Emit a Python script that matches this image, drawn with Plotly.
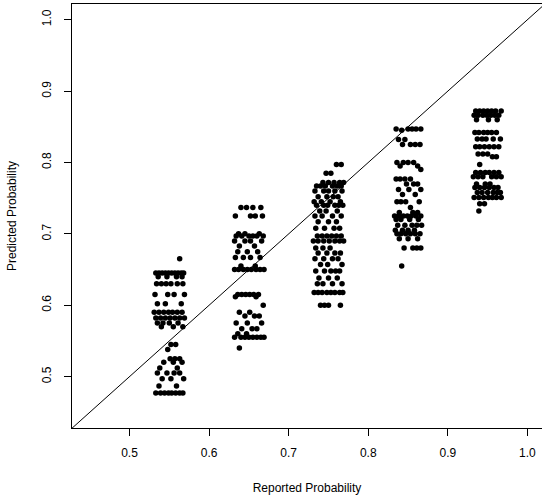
import plotly.graph_objects as go

# Each group: list of (predicted probability level, reported-probability x positions)
group_055 = [
    (0.665, [0.563]),
    (0.645, [0.533, 0.537, 0.541, 0.545, 0.549, 0.553, 0.557, 0.561, 0.565, 0.568]),
    (0.640, [0.536, 0.547, 0.559, 0.566]),
    (0.630, [0.534, 0.540, 0.546, 0.552, 0.560, 0.567]),
    (0.615, [0.532, 0.548, 0.556, 0.569]),
    (0.602, [0.535, 0.545, 0.565]),
    (0.590, [0.531, 0.537, 0.543, 0.549, 0.554, 0.560, 0.566]),
    (0.582, [0.533, 0.539, 0.545, 0.551, 0.557, 0.563, 0.569]),
    (0.575, [0.535, 0.542, 0.550, 0.561]),
    (0.570, [0.540, 0.555, 0.567]),
    (0.545, [0.552, 0.558]),
    (0.538, [0.548]),
    (0.525, [0.551, 0.557, 0.563]),
    (0.520, [0.543, 0.555, 0.566]),
    (0.512, [0.538, 0.560]),
    (0.505, [0.535, 0.547, 0.556, 0.563]),
    (0.497, [0.541, 0.552, 0.568]),
    (0.487, [0.537, 0.559]),
    (0.477, [0.533, 0.539, 0.544, 0.549, 0.553, 0.558, 0.563, 0.567]),
]
group_065 = [
    (0.737, [0.640, 0.647, 0.655, 0.665]),
    (0.725, [0.633, 0.652, 0.658, 0.667]),
    (0.700, [0.637, 0.645, 0.663]),
    (0.697, [0.634, 0.641, 0.650, 0.655, 0.660, 0.668]),
    (0.690, [0.632, 0.645, 0.652, 0.666]),
    (0.683, [0.638, 0.657]),
    (0.675, [0.636, 0.648, 0.661]),
    (0.667, [0.633, 0.643, 0.652, 0.664]),
    (0.655, [0.640, 0.658]),
    (0.650, [0.632, 0.637, 0.643, 0.648, 0.653, 0.659, 0.664, 0.669]),
    (0.615, [0.636, 0.641, 0.646, 0.651, 0.656, 0.662]),
    (0.612, [0.633, 0.659]),
    (0.600, [0.668]),
    (0.590, [0.638, 0.651]),
    (0.585, [0.645, 0.657, 0.663]),
    (0.575, [0.634, 0.648, 0.666]),
    (0.567, [0.641, 0.654, 0.660]),
    (0.560, [0.636, 0.647]),
    (0.555, [0.632, 0.640, 0.645, 0.650, 0.655, 0.660, 0.665, 0.669]),
    (0.540, [0.638]),
]
group_075 = [
    (0.797, [0.760, 0.766]),
    (0.785, [0.747, 0.753]),
    (0.772, [0.743, 0.750, 0.757, 0.764, 0.769]),
    (0.767, [0.735, 0.740, 0.746, 0.755, 0.761, 0.766]),
    (0.760, [0.733, 0.744, 0.750, 0.758, 0.767]),
    (0.752, [0.737, 0.748, 0.756, 0.762]),
    (0.745, [0.732, 0.741, 0.752, 0.765]),
    (0.740, [0.735, 0.744, 0.749, 0.758, 0.763, 0.768]),
    (0.732, [0.739, 0.747, 0.761]),
    (0.725, [0.733, 0.742, 0.755, 0.766]),
    (0.717, [0.737, 0.750, 0.760]),
    (0.708, [0.734, 0.745, 0.757, 0.764]),
    (0.697, [0.736, 0.742, 0.748, 0.754, 0.760, 0.766]),
    (0.690, [0.731, 0.737, 0.744, 0.751, 0.758, 0.764, 0.769]),
    (0.680, [0.734, 0.743, 0.752]),
    (0.673, [0.737, 0.748, 0.758, 0.765]),
    (0.665, [0.733, 0.744, 0.755, 0.762]),
    (0.657, [0.740, 0.749, 0.767]),
    (0.648, [0.734, 0.745, 0.753, 0.759, 0.764]),
    (0.638, [0.738, 0.750, 0.761]),
    (0.630, [0.736, 0.743, 0.755, 0.767]),
    (0.618, [0.732, 0.737, 0.742, 0.748, 0.753, 0.758, 0.764, 0.768]),
    (0.600, [0.740, 0.745, 0.750, 0.765]),
]
group_085 = [
    (0.847, [0.835, 0.850, 0.855, 0.860, 0.866]),
    (0.845, [0.842]),
    (0.832, [0.838, 0.846]),
    (0.825, [0.843, 0.853, 0.859, 0.865]),
    (0.800, [0.836, 0.844, 0.850, 0.857]),
    (0.795, [0.840, 0.862]),
    (0.790, [0.866]),
    (0.777, [0.835, 0.840, 0.846, 0.853]),
    (0.770, [0.848, 0.857, 0.862]),
    (0.762, [0.838, 0.851, 0.866]),
    (0.755, [0.843, 0.859]),
    (0.745, [0.836, 0.841, 0.847, 0.864]),
    (0.737, [0.853]),
    (0.730, [0.839, 0.856, 0.862]),
    (0.725, [0.833, 0.838, 0.844, 0.849, 0.854, 0.860, 0.866]),
    (0.720, [0.835, 0.841, 0.852, 0.863]),
    (0.712, [0.837, 0.846, 0.855, 0.861, 0.867]),
    (0.705, [0.834, 0.843, 0.850, 0.858]),
    (0.700, [0.836, 0.841, 0.847, 0.853, 0.859, 0.865]),
    (0.693, [0.839, 0.850, 0.862]),
    (0.680, [0.845, 0.856, 0.861, 0.866]),
    (0.655, [0.842]),
]
group_095 = [
    (0.872, [0.935, 0.940, 0.945, 0.950, 0.955, 0.960, 0.967]),
    (0.866, [0.933, 0.938, 0.944, 0.949, 0.954, 0.959, 0.964]),
    (0.860, [0.936, 0.951, 0.962]),
    (0.842, [0.934, 0.939, 0.945, 0.950, 0.955, 0.961]),
    (0.833, [0.937, 0.943, 0.948, 0.957, 0.966]),
    (0.822, [0.935, 0.940, 0.946, 0.952, 0.958, 0.964]),
    (0.812, [0.938, 0.944, 0.950]),
    (0.808, [0.956, 0.961]),
    (0.797, [0.940]),
    (0.786, [0.935, 0.941, 0.947, 0.952, 0.958, 0.964]),
    (0.780, [0.932, 0.938, 0.944, 0.955, 0.961, 0.967]),
    (0.770, [0.936, 0.947, 0.953]),
    (0.765, [0.934, 0.940, 0.946, 0.952, 0.958, 0.963]),
    (0.758, [0.937, 0.943, 0.950, 0.957, 0.962, 0.966]),
    (0.751, [0.933, 0.939, 0.945, 0.951, 0.956, 0.961, 0.967]),
    (0.742, [0.940, 0.946]),
    (0.732, [0.939]),
]

tick_vals = [0.5, 0.6, 0.7, 0.8, 0.9, 1.0]
tick_text = ["0.5", "0.6", "0.7", "0.8", "0.9", "1.0"]
diag = [0.40, 1.05]

xs, ys = [], []
for grp in (group_055, group_065, group_075, group_085, group_095):
    for yv, xl in grp:
        for xv in xl:
            xs.append(xv)
            ys.append(yv)

fig = go.Figure()
fig.add_trace(go.Scatter(x=diag, y=diag, mode="lines",
                         line=dict(color="black", width=1), hoverinfo="skip"))
fig.add_trace(go.Scatter(x=xs, y=ys, mode="markers",
                         marker=dict(color="black", size=5.5, line=dict(width=0))))

font = dict(family="Liberation Sans, Arial, Helvetica, sans-serif", size=12, color="black")
fig.update_layout(
    width=542, height=497,
    margin=dict(l=72, r=0, t=4, b=69, autoexpand=False),
    paper_bgcolor="white", plot_bgcolor="white",
    showlegend=False, font=font,
    xaxis=dict(range=[0.4277, 1.0183], tickvals=tick_vals, ticktext=tick_text,
               showgrid=False, zeroline=False, showline=True, mirror=True,
               linecolor="black", linewidth=1, ticks="outside", ticklen=7,
               tickcolor="black", ticklabelstandoff=7, automargin=False,
               title=dict(text="Reported Probability", standoff=24, font=font)),
    yaxis=dict(range=[0.428, 1.022], tickvals=tick_vals, ticktext=tick_text,
               showgrid=False, zeroline=False, showline=True, mirror=False,
               linecolor="black", linewidth=1, ticks="outside", ticklen=7,
               tickcolor="black", tickangle=-90, ticklabelstandoff=8, automargin=False,
               title=dict(text="Predicted Probability", standoff=21, font=font)),
)
fig.write_html("out.html", config={"displayModeBar": False},
               post_script="document.body.style.margin='0';document.body.style.padding='0';")
